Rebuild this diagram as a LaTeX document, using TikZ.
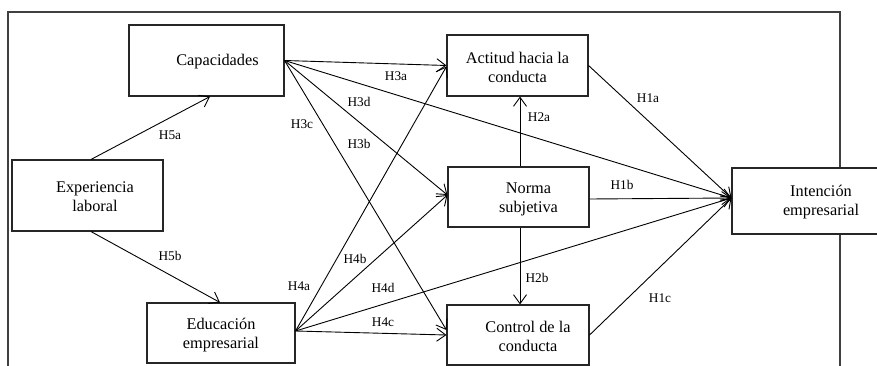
\documentclass[tikz,border=0pt]{standalone}
\usepackage{fontspec}
\setmainfont{Liberation Serif}
\usetikzlibrary{arrows.meta}
\begin{document}
\begin{tikzpicture}[x=1pt,y=-1pt,
  box/.style={draw=black!85, line width=1.1pt, fill=white, inner sep=0pt},
  txt/.style={font=\fontsize{16.3}{19}\selectfont, align=center, inner sep=0pt},
  lab/.style={font=\fontsize{13.3}{15}\selectfont, inner sep=0pt},
  arr/.style={-{Straight Barb[length=9pt,width=13pt]}, line width=0.9pt},
  frameline/.style={draw=black!75, line width=1.2pt}]
\clip (0,0) rectangle (877,366);
\fill[white] (0,0) rectangle (877,366);
% outer frame (cropped at the bottom)
\coordinate (fbl) at (8,372);
\coordinate (ftl) at (8,12);
\coordinate (ftr) at (840,12);
\coordinate (fbr) at (840,372);
\draw[frameline] (fbl) -- (ftl) -- (ftr) -- (fbr);
% boxes
\node[box, minimum width=155pt, minimum height=71pt] (cap) at (206.5,60.5) {};
\node[txt] (capt) at ([xshift=11pt,yshift=-1.5pt]cap.center) {Capacidades};
\node[box, minimum width=151pt, minimum height=71pt] (exp) at (87.5,195.5) {};
\node[txt] (expt) at ([xshift=7.5pt,yshift=-1pt]exp.center) {Experiencia\\laboral};
\node[box, minimum width=148pt, minimum height=60pt] (edu) at (221,333) {};
\node[txt] (edut) at ([yshift=-2pt]edu.center) {Educación\\empresarial};
\node[box, minimum width=141pt, minimum height=61pt] (act) at (517.5,65.5) {};
\node[txt] (actt) at ([yshift=-1.5pt]act.center) {Actitud hacia la\\conducta};
\node[box, minimum width=141pt, minimum height=60pt] (nor) at (518.5,197) {};
\node[txt] (nort) at ([xshift=10pt,yshift=-2.5pt]nor.center) {Norma\\subjetiva};
\node[box, minimum width=142pt, minimum height=60pt] (ctl) at (518,335) {};
\node[txt] (ctlt) at ([xshift=10pt,yshift=-1.5pt]ctl.center) {Control de la\\conducta};
\node[box, minimum width=158pt, minimum height=66pt] (int) at (811,201) {};
\node[txt] (intt) at ([xshift=10pt,yshift=-1.5pt]int.center) {Intención\\empresarial};
% connectors
\coordinate (intin) at ([yshift=3pt]int.west);
\coordinate (eduout) at ([yshift=2pt]edu.east);
\draw[arr] ([xshift=3.5pt]exp.north) -- ([xshift=3.5pt]cap.south);
\draw[arr] ([xshift=3.5pt]exp.south) -- ([xshift=-1pt]edu.north);
\draw[arr] (cap.east) -- (act.west);
\draw[arr] (cap.east) -- (intin);
\draw[arr] (cap.east) -- ([yshift=2pt]nor.west);
\draw[arr] (cap.east) -- ([yshift=5pt]ctl.west);
\draw[arr] (eduout) -- ([yshift=-1pt]act.west);
\draw[arr] (eduout) -- ([yshift=2pt]nor.west);
\draw[arr] (eduout) -- (intin);
\draw[arr] (eduout) -- (ctl.west);
\draw[arr] ([xshift=1.5pt]nor.north) -- ([xshift=2.5pt]act.south);
\draw[arr] ([xshift=1.5pt]nor.south) -- ([xshift=2pt]ctl.north);
\draw[arr] (act.east) -- (intin);
\draw[arr] ([yshift=-2pt]nor.east) -- (intin);
\draw[arr] (ctl.east) -- (intin);
% labels
\node[lab] (l5a) at (170,135) {H5a};
\node[lab] (l5b) at (170,256) {H5b};
\node[lab] (l3a) at (396,76) {H3a};
\node[lab] (l3d) at (359,102) {H3d};
\node[lab] (l3c) at (302,124) {H3c};
\node[lab] (l3b) at (359,144) {H3b};
\node[lab] (l4b) at (355,259) {H4b};
\node[lab] (l4a) at (299,286) {H4a};
\node[lab] (l4d) at (383,288) {H4d};
\node[lab] (l4c) at (383,322) {H4c};
\node[lab] (l1a) at (648,98) {H1a};
\node[lab] (l2a) at (539,117) {H2a};
\node[lab] (l1b) at (622,185) {H1b};
\node[lab] (l2b) at (537,278) {H2b};
\node[lab] (l1c) at (660,298) {H1c};
\end{tikzpicture}
\end{document}
